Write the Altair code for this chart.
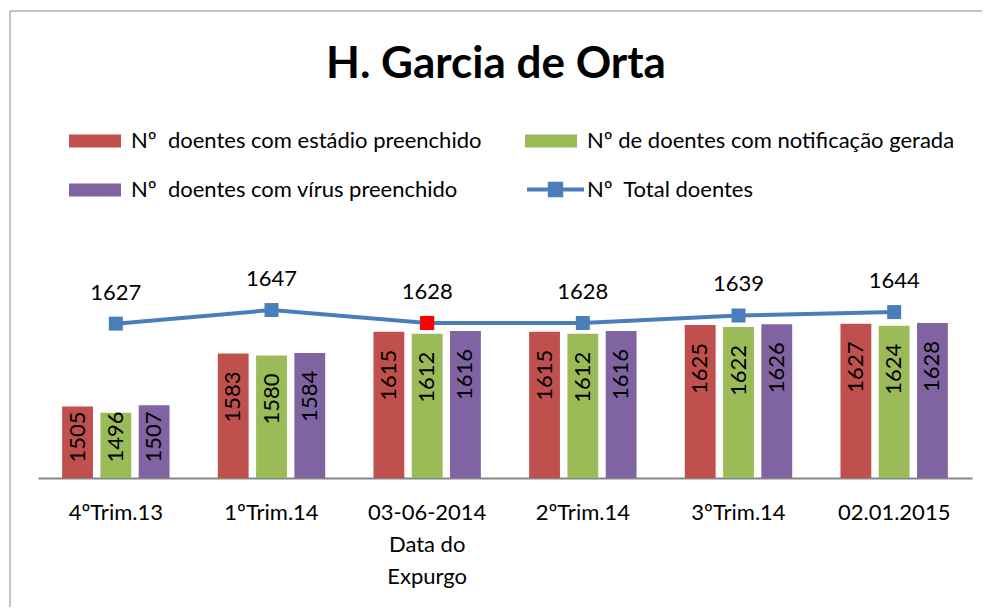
import altair as alt
import pandas as pd

categories = ["4ºTrim.13", "1ºTrim.14", "03-06-2014\nData do\nExpurgo", "2ºTrim.14", "3ºTrim.14", "02.01.2015"]
series_names = [
    "Nº\u00a0 doentes com estádio preenchido",
    "Nº de doentes com notificação gerada",
    "Nº\u00a0 doentes com vírus preenchido",
]
estadio = [1505, 1583, 1615, 1615, 1625, 1627]
notificacao = [1496, 1580, 1612, 1612, 1622, 1624]
virus = [1507, 1584, 1616, 1616, 1626, 1628]
total_name = "Nº\u00a0 Total doentes"
total = [1627, 1647, 1628, 1628, 1639, 1644]
highlight_index = 2
title_text = "H. Garcia de Orta"

bar_colors = ["#C0504D", "#9BBB59", "#8064A2"]
line_color = "#4A7EBB"
highlight_color = "#FF0000"
FONT = "Lato"

rows = []
for i, c in enumerate(categories):
    for s, vals in zip(series_names, [estadio, notificacao, virus]):
        rows.append({"cat": c, "series": s, "value": vals[i]})
bars_df = pd.DataFrame(rows)
tot_df = pd.DataFrame({
    "cat": categories,
    "total": total,
    "series": [total_name] * len(categories),
    "hl": [i == highlight_index for i in range(len(categories))],
})

x_enc = alt.X(
    "cat:N", sort=categories,
    scale=alt.Scale(paddingInner=0.31, paddingOuter=0.155),
    axis=alt.Axis(
        title=None, labelExpr="split(datum.label, '\\n')", labelFont=FONT,
        labelFontSize=22, labelColor="black", labelAngle=0, ticks=False, tickSize=0,
        labelPadding=24, domainColor="#868686", domainWidth=2, labelLineHeight=32,
        labelBaseline="top", labelOverlap=False, grid=False,
    ),
)
y_scale = alt.Scale(domain=[1400, 1700], nice=False, zero=False)
xoff = alt.XOffset("series:N", sort=series_names,
                   scale=alt.Scale(paddingInner=0.195, paddingOuter=0))

border = alt.Chart(alt.Data(values=[{}])).mark_rect(
    filled=False, stroke="#868686", strokeWidth=1
).encode(x=alt.value(-28), x2=alt.value(1000), y=alt.value(-263), y2=alt.value(400))

title = alt.Chart(alt.Data(values=[{}])).mark_text(
    text=title_text, font=FONT, fontSize=44, fontWeight="bold", color="black",
    align="center", baseline="alphabetic",
).encode(x=alt.value(458), y=alt.value(-196))

bars = alt.Chart(bars_df).mark_bar().encode(
    x=x_enc,
    xOffset=xoff,
    y=alt.Y("value:Q", scale=y_scale, axis=None),
    y2=alt.datum(1400),
    color=alt.Color(
        "series:N", sort=series_names,
        scale=alt.Scale(domain=series_names, range=bar_colors),
        legend=alt.Legend(
            title=None, orient="none", legendX=31, legendY=-159, columns=2,
            direction="horizontal",
            columnPadding=43, rowPadding=12, symbolType="M-1,-0.25H1V0.25H-1Z",
            symbolSize=2704, symbolStrokeWidth=0, labelFont=FONT, labelFontSize=22,
            labelColor="black", labelOffset=10, labelLimit=600, padding=0,
        ),
    ),
)

bar_labels = alt.Chart(bars_df).transform_calculate(
    labely="max(datum.value - 26.4, 1498)"
).mark_text(angle=270, align="right", baseline="middle", font=FONT, fontSize=22,
            color="black").encode(
    x=alt.X("cat:N", sort=categories),
    xOffset=xoff,
    y=alt.Y("labely:Q", scale=y_scale),
    text="value:Q",
)

line = alt.Chart(tot_df).mark_line(color=line_color, strokeWidth=4).encode(
    x=alt.X("cat:N", sort=categories),
    y=alt.Y("total:Q", scale=y_scale),
)

points = alt.Chart(tot_df).mark_square(size=196, opacity=1, filled=True).encode(
    x=alt.X("cat:N", sort=categories),
    y=alt.Y("total:Q", scale=y_scale),
    color=alt.Color(
        "series:N", scale=alt.Scale(domain=[total_name], range=[line_color]),
        legend=alt.Legend(
            title=None, orient="none", legendX=489, legendY=-113,
            symbolType="M-1,-0.07H1V0.07H-1Z M-0.27,-0.27H0.27V0.27H-0.27Z",
            symbolSize=3249, symbolStrokeWidth=0, labelFont=FONT, labelFontSize=22,
            labelColor="black", labelOffset=3, labelLimit=600, padding=0,
        ),
    ),
)

hl_point = alt.Chart(tot_df).transform_filter("datum.hl").mark_square(
    size=196, opacity=1, filled=True, color=highlight_color
).encode(
    x=alt.X("cat:N", sort=categories),
    y=alt.Y("total:Q", scale=y_scale),
)

line_labels = alt.Chart(tot_df).mark_text(
    dy=-31, baseline="middle", font=FONT, fontSize=22, color="black"
).encode(
    x=alt.X("cat:N", sort=categories),
    y=alt.Y("total:Q", scale=y_scale),
    text="total:Q",
)

chart = alt.layer(
    border, title, bars, bar_labels, line, points, hl_point, line_labels
).resolve_scale(color="independent").properties(
    width=934, height=204,
    padding={"left": 30, "top": 266, "right": 10, "bottom": 129},
    autosize=alt.AutoSizeParams(type="none"),
).configure_view(stroke=None)

chart.save("out.html", embed_options={"renderer": "svg", "actions": False})
